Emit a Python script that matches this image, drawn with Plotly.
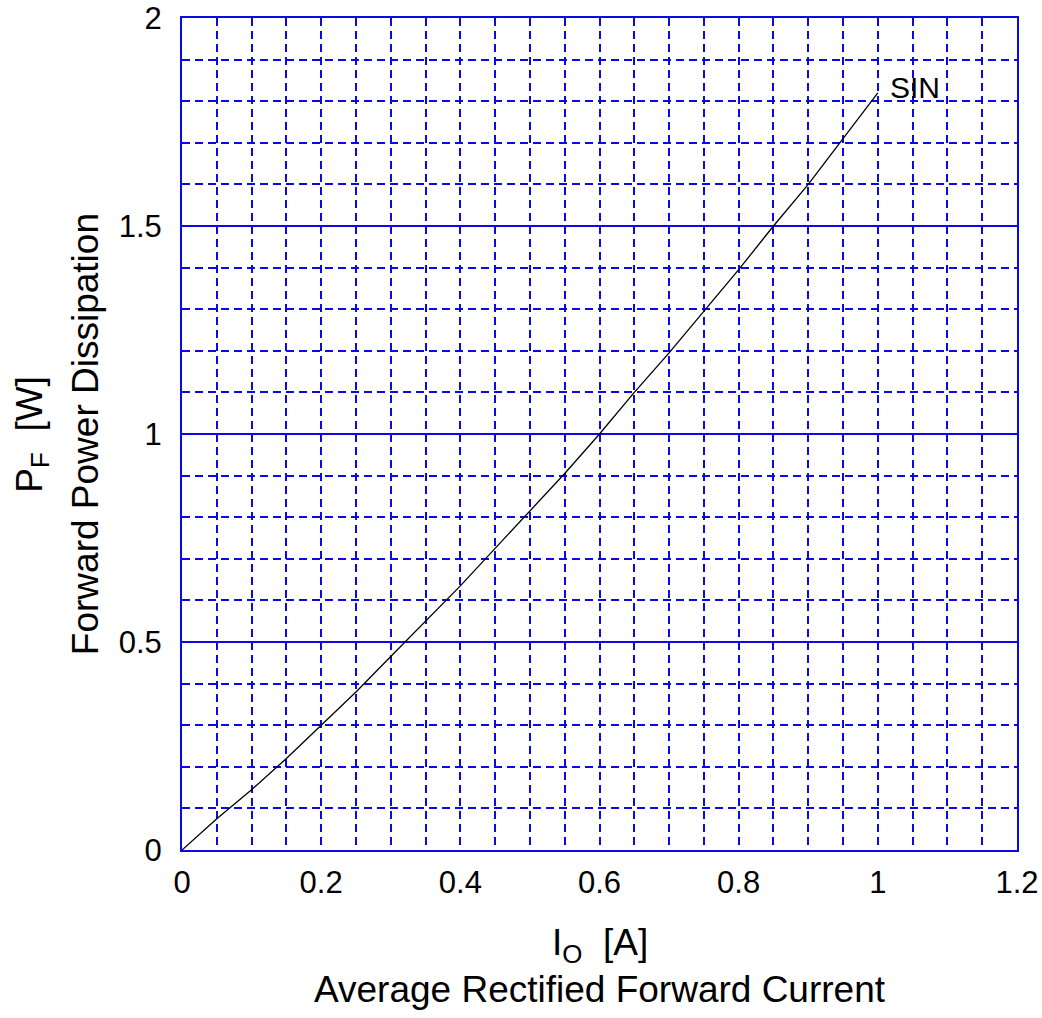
import plotly.graph_objects as go

io_a = [0, 0.05, 0.1, 0.15, 0.2, 0.25, 0.3, 0.35, 0.4, 0.45, 0.5, 0.55, 0.6, 0.65, 0.7, 0.75, 0.8, 0.85, 0.9, 0.95, 1.0]
pf_w = [0, 0.075, 0.145, 0.22, 0.30, 0.38, 0.465, 0.55, 0.635, 0.725, 0.815, 0.905, 1.0, 1.10, 1.195, 1.295, 1.395, 1.50, 1.60, 1.71, 1.82]

x_ticks = [0, 0.2, 0.4, 0.6, 0.8, 1.0, 1.2]
x_labels = ["0", "0.2", "0.4", "0.6", "0.8", "1", "1.2"]
y_ticks = [0, 0.5, 1.0, 1.5, 2.0]
y_labels = ["0", "0.5", "1", "1.5", "2"]

BLUE = "#0a0ae6"
FONT = "Liberation Sans, Arial, sans-serif"

fig = go.Figure()
fig.add_trace(go.Scatter(x=io_a, y=pf_w, mode="lines",
                         line=dict(color="black", width=1.3), showlegend=False))

fig.add_annotation(x=1.0, y=1.82, text="SIN", showarrow=False, xanchor="left", yanchor="bottom",
                   xshift=10, yshift=-13, font=dict(family=FONT, size=30, color="black"))

fig.update_xaxes(range=[0, 1.2], tickvals=x_ticks, ticktext=x_labels, automargin=False,
                 showgrid=True, gridcolor=BLUE, gridwidth=1.5, griddash="8px,5px",
                 minor=dict(dtick=0.05, tick0=0, showgrid=True, gridcolor=BLUE, gridwidth=1.5, griddash="8px,5px"),
                 showline=True, linecolor=BLUE, linewidth=2, mirror=True, zeroline=False,
                 ticks="", tickfont=dict(family=FONT, size=31, color="black"), ticklabelstandoff=4)
fig.update_yaxes(range=[0, 2], tickvals=y_ticks, ticktext=y_labels, automargin=False,
                 showgrid=True, gridcolor=BLUE, gridwidth=1.5, griddash="solid",
                 minor=dict(dtick=0.1, tick0=0, showgrid=True, gridcolor=BLUE, gridwidth=1.5, griddash="8px,5px"),
                 showline=True, linecolor=BLUE, linewidth=2, mirror=True, zeroline=False,
                 ticks="", tickfont=dict(family=FONT, size=31, color="black"), ticklabelstandoff=12)

# axis titles as annotations
fig.add_annotation(x=0.5, y=-0.114, xref="paper", yref="paper", text="I<sub>O</sub>  [A]",
                   showarrow=False, yanchor="middle", font=dict(family=FONT, size=37, color="black"))
fig.add_annotation(x=0.5, y=-0.168, xref="paper", yref="paper", text="Average Rectified Forward Current",
                   showarrow=False, yanchor="middle", font=dict(family=FONT, size=37, color="black"))
fig.add_annotation(x=-0.18, y=0.5, xref="paper", yref="paper", text="P<sub>F</sub>  [W]", textangle=-90,
                   showarrow=False, xanchor="center", font=dict(family=FONT, size=37, color="black"))
fig.add_annotation(x=-0.116, y=0.5, xref="paper", yref="paper", text="Forward Power Dissipation", textangle=-90,
                   showarrow=False, xanchor="center", font=dict(family=FONT, size=37, color="black"))

fig.update_layout(width=1042, height=1018, margin=dict(l=182, r=25, t=18, b=168, autoexpand=False),
                  plot_bgcolor="white", paper_bgcolor="white")
fig.write_html("out.html")
